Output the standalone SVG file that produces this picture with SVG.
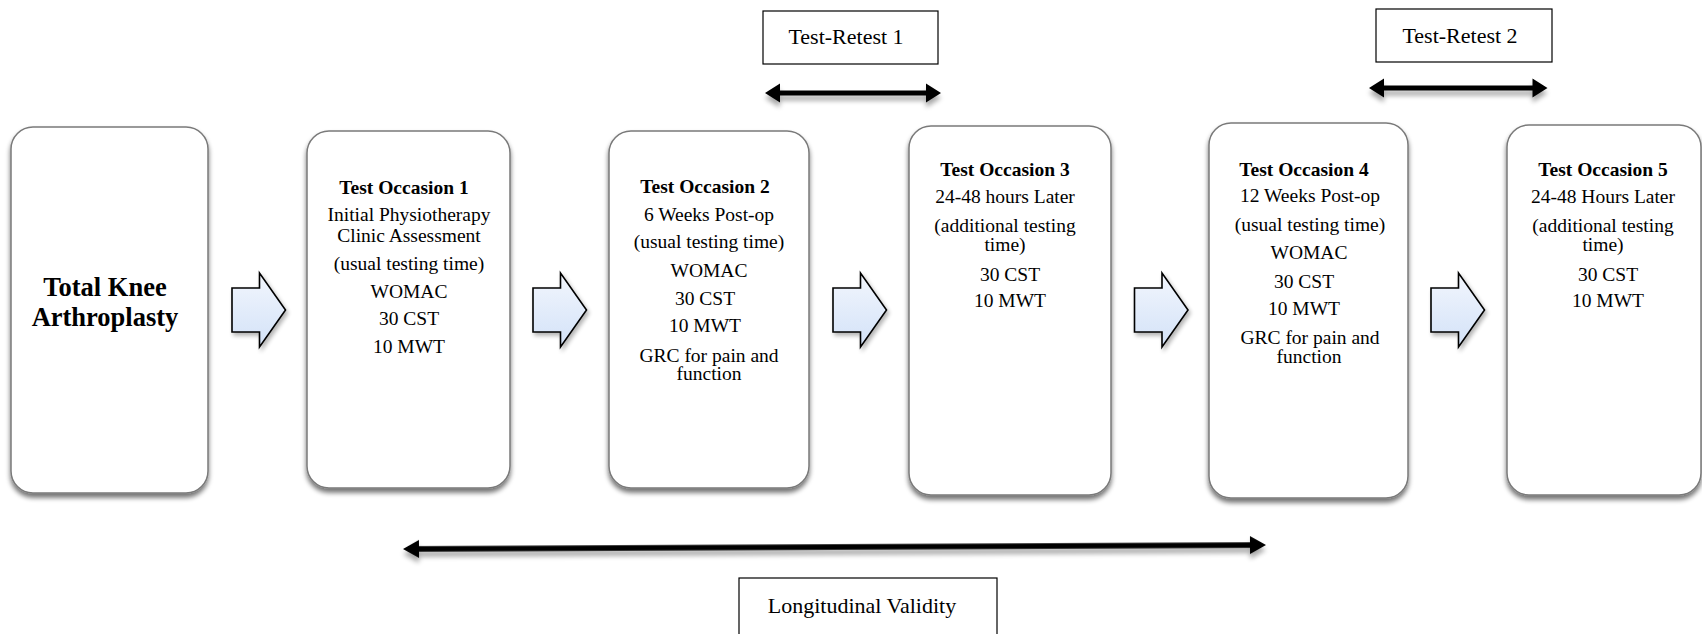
<svg xmlns="http://www.w3.org/2000/svg" width="1702" height="634" viewBox="0 0 1702 634">
<style>
.box{fill:#fff;stroke:#7a7a7a;stroke-width:1.5;filter:url(#sh)}
.lbl{fill:#fff;stroke:#000;stroke-width:1.2}
.blk{fill:url(#bg);stroke:#000;stroke-width:1.6;stroke-linejoin:miter;filter:url(#sh2)}
.dbl{fill:#000;filter:url(#sh3)}
text{font-family:"Liberation Serif","Times New Roman",serif;fill:#000;text-anchor:middle}
.t{font-size:19.5px;font-weight:bold}
.b{font-size:19.5px}
.big{font-size:26.5px;font-weight:bold}
.lt{font-size:22px}
</style>
<defs>
<linearGradient id="bg" x1="0" y1="0" x2="0" y2="1">
<stop offset="0" stop-color="#f2f6fd"/>
<stop offset="1" stop-color="#d3e2f8"/>
</linearGradient>
<filter id="sh" x="-10%" y="-10%" width="120%" height="125%">
<feGaussianBlur in="SourceAlpha" stdDeviation="2.5"/>
<feOffset dx="0" dy="4" result="o"/>
<feComponentTransfer><feFuncA type="linear" slope="0.55"/></feComponentTransfer>
<feMerge><feMergeNode/><feMergeNode in="SourceGraphic"/></feMerge>
</filter>
<filter id="sh2" x="-20%" y="-20%" width="150%" height="150%">
<feGaussianBlur in="SourceAlpha" stdDeviation="2"/>
<feOffset dx="2" dy="3" result="o"/>
<feComponentTransfer><feFuncA type="linear" slope="0.3"/></feComponentTransfer>
<feMerge><feMergeNode/><feMergeNode in="SourceGraphic"/></feMerge>
</filter>
<filter id="sh3" x="-5%" y="-100%" width="110%" height="400%">
<feGaussianBlur in="SourceAlpha" stdDeviation="2.5"/>
<feOffset dx="0" dy="5" result="o"/>
<feComponentTransfer><feFuncA type="linear" slope="0.35"/></feComponentTransfer>
<feMerge><feMergeNode/><feMergeNode in="SourceGraphic"/></feMerge>
</filter>
<path id="blockArrow" d="M0,-22 H27.5 V-37 L53.5,0 L27.5,37 V22 H0 Z"/>
</defs>

<g id="connectors">
<use href="#blockArrow" class="blk" x="232" y="310"/>
<use href="#blockArrow" class="blk" x="533" y="310"/>
<use href="#blockArrow" class="blk" x="833" y="310"/>
<use href="#blockArrow" class="blk" x="1134.5" y="310"/>
<use href="#blockArrow" class="blk" x="1431" y="310"/>
<path class="dbl" d="M765,93 L780,83.5 V90.5 H926 V83.5 L941,93 L926,102.5 V95.5 H780 V102.5 Z"/>
<path class="dbl" d="M1369,88 L1384,78.5 V85.5 H1532.5 V78.5 L1547.5,88 L1532.5,97.5 V90.5 H1384 V97.5 Z"/>
<path class="dbl" transform="translate(403,549) rotate(-0.266)" d="M0,0 L16,-9 V-2.7 H847 V-9 L863,0 L847,9 V2.7 H16 V9 Z"/>
</g>

<g id="node-tka">
<rect class="box" x="11" y="127" width="197" height="366" rx="22"/>
<text class="big" x="105" y="295.5">Total Knee</text>
<text class="big" x="105" y="325.5">Arthroplasty</text>
</g>

<g id="node-occ1">
<rect class="box" x="307" y="131" width="203" height="357" rx="22"/>
<text class="t" x="404" y="194">Test Occasion 1</text>
<text class="b" x="409" y="221">Initial Physiotherapy</text>
<text class="b" x="409" y="242">Clinic Assessment</text>
<text class="b" x="409" y="270">(usual testing time)</text>
<text class="b" x="409" y="298">WOMAC</text>
<text class="b" x="409" y="325">30 CST</text>
<text class="b" x="409" y="353">10 MWT</text>
</g>

<g id="node-occ2">
<rect class="box" x="609" y="131" width="200" height="357" rx="22"/>
<text class="t" x="705" y="193">Test Occasion 2</text>
<text class="b" x="709" y="221">6 Weeks Post-op</text>
<text class="b" x="709" y="248">(usual testing time)</text>
<text class="b" x="709" y="277">WOMAC</text>
<text class="b" x="705" y="305">30 CST</text>
<text class="b" x="705" y="332">10 MWT</text>
<text class="b" x="709" y="362">GRC for pain and</text>
<text class="b" x="709" y="380">function</text>
</g>

<g id="node-occ3">
<rect class="box" x="909" y="126" width="202" height="369" rx="22"/>
<text class="t" x="1005" y="176">Test Occasion 3</text>
<text class="b" x="1005" y="203">24-48 hours Later</text>
<text class="b" x="1005" y="232">(additional testing</text>
<text class="b" x="1005" y="251">time)</text>
<text class="b" x="1010" y="281">30 CST</text>
<text class="b" x="1010" y="307">10 MWT</text>
</g>

<g id="node-occ4">
<rect class="box" x="1209" y="123" width="199" height="375" rx="22"/>
<text class="t" x="1304" y="176">Test Occasion 4</text>
<text class="b" x="1310" y="202">12 Weeks Post-op</text>
<text class="b" x="1310" y="231">(usual testing time)</text>
<text class="b" x="1309" y="259">WOMAC</text>
<text class="b" x="1304" y="288">30 CST</text>
<text class="b" x="1304" y="315">10 MWT</text>
<text class="b" x="1310" y="344">GRC for pain and</text>
<text class="b" x="1309" y="363">function</text>
</g>

<g id="node-occ5">
<rect class="box" x="1507" y="125" width="194" height="370" rx="22"/>
<text class="t" x="1603" y="176">Test Occasion 5</text>
<text class="b" x="1603" y="203">24-48 Hours Later</text>
<text class="b" x="1603" y="232">(additional testing</text>
<text class="b" x="1603" y="251">time)</text>
<text class="b" x="1608" y="281">30 CST</text>
<text class="b" x="1608" y="307">10 MWT</text>
</g>

<g id="label-tr1">
<rect class="lbl" x="763" y="11" width="175" height="53"/>
<text class="lt" x="846" y="44">Test-Retest 1</text>
</g>

<g id="label-tr2">
<rect class="lbl" x="1376" y="9" width="176" height="53"/>
<text class="lt" x="1460" y="43">Test-Retest 2</text>
</g>

<g id="label-lv">
<rect class="lbl" x="739" y="578" width="258" height="70"/>
<text class="lt" x="862" y="613">Longitudinal Validity</text>
</g>
</svg>
